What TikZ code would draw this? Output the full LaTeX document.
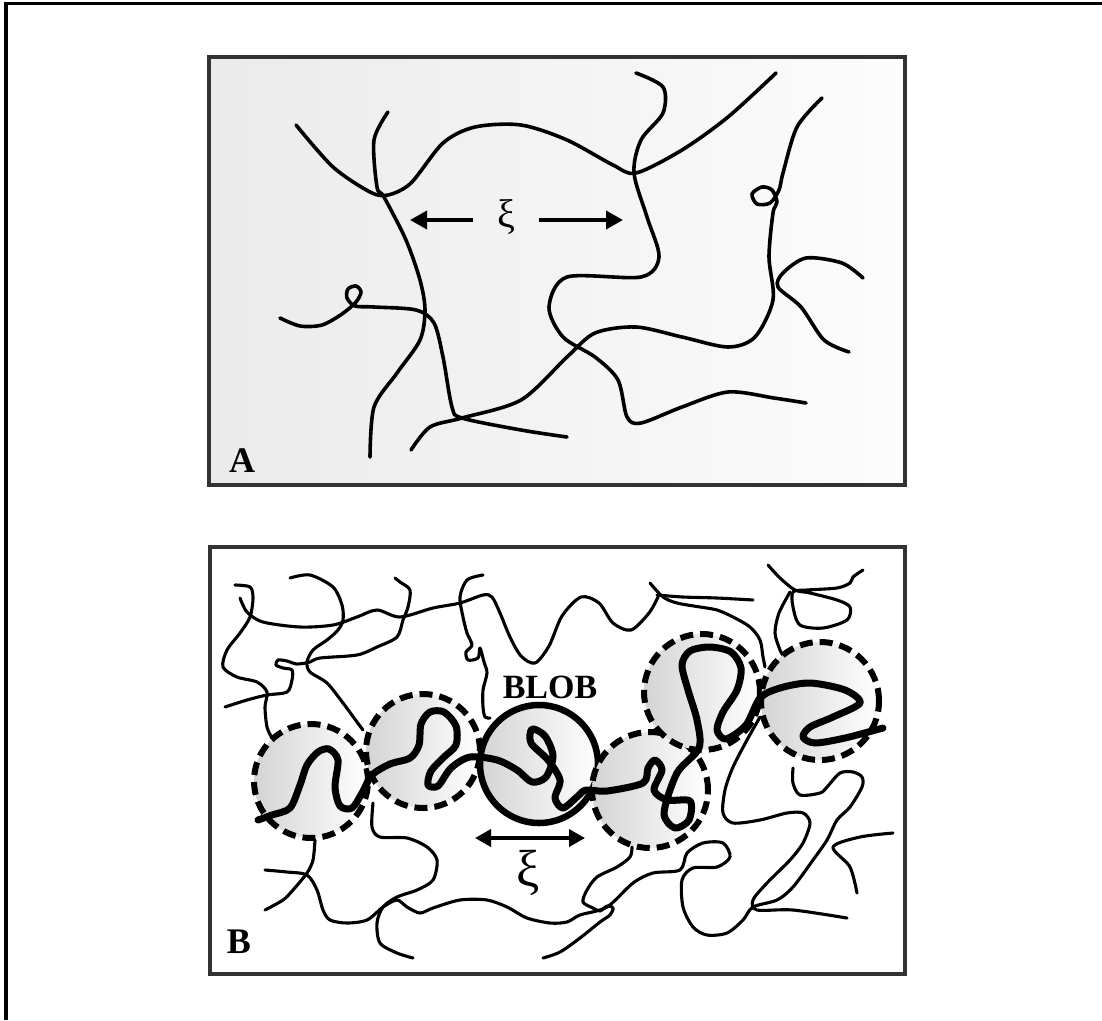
\documentclass[tikz,border=0pt]{standalone}
\usepackage{fontspec}
\setmainfont{Liberation Serif}
\usetikzlibrary{arrows.meta}
\begin{document}
\begin{tikzpicture}[x=1pt,y=-1pt,
  chain/.style={line width=3.6pt, line cap=round, line join=round},
  thinchain/.style={line width=3.1pt, line cap=round, line join=round},
  thickchain/.style={line width=7pt, line cap=round, line join=round},
  panel/.style={draw=black!80, line width=4pt},
  blob/.style={circle, minimum size=114pt, inner sep=0pt, left color=black!17, middle color=black!5, right color=white},
  dashring/.style={blob, draw=black, line width=6pt, dash pattern=on 13pt off 7pt},
  solidring/.style={blob, draw=black, line width=6.5pt},
  fatarrow/.style={line width=3.6pt, -{Triangle[length=17pt,width=18pt]}},
  fatboth/.style={line width=3.6pt, {Triangle[length=16pt,width=17pt]}-{Triangle[length=16pt,width=17pt]}},
  lab/.style={font=\fontsize{36}{36}\selectfont\bfseries, inner sep=0pt},
]
\useasboundingbox (0,0) rectangle (1102,1020);
% outer frame (left and top edges only)
\draw[line width=3.5pt] (6,1020) -- (6,3.5) -- (1102,3.5);

% ---------------- panel A: semi-dilute network ----------------
\node[panel, rectangle, minimum width=696pt, minimum height=428pt, inner sep=0pt,
      left color=black!8, right color=black!1, anchor=north west] (pA) at (207,55) {};

\draw[chain] plot[smooth] coordinates {(296,125) (333,167) (370,192) (388,195) (411,183) (443,143) (475,127) (521,125) (567,140) (613,165) (636,173) (682,150) (728,117) (776,73)};
\draw[chain] plot[smooth] coordinates {(388,112) (374,140) (377,187) (384,197) (406,240) (420,280) (425,310) (420,340) (397,373) (374,407) (370,457)};
\draw[chain] plot[smooth] coordinates {(280,318) (300,326) (322,325) (342,314) (356,302) (361,292) (356,286) (348,289) (347,298) (355,306) (374,307) (416,310) (434,323) (443,357) (452,407) (462,418) (521,430) (567,437)};
\draw[chain] plot[smooth] coordinates {(411,450) (430,427) (462,418) (521,400) (567,357) (595,333) (636,327) (682,337) (728,347) (755,337) (773,300) (769,257) (773,213) (777,202) (772,190) (762,187) (752,194) (757,204) (770,203) (779,190) (783,173) (797,127) (822,98)};
\draw[chain] plot[smooth] coordinates {(636,73) (663,87) (663,113) (641,140) (634,173) (647,217) (659,257) (641,277) (567,277) (549,307) (563,337) (595,357) (618,380) (627,417) (641,423) (682,407) (728,392) (774,398) (806,403)};
\draw[chain] plot[smooth] coordinates {(863,278) (842,263) (806,258) (783,273) (778,287) (801,307) (824,340) (849,352)};

\node[font=\fontsize{40}{40}\selectfont, inner sep=0pt] (xiA) at (506,217) {ξ};
\coordinate (xiAl) at (473,220);
\coordinate (xiAlt) at (410,220);
\coordinate (xiAr) at (539,220);
\coordinate (xiArt) at (623,220);
\draw[fatarrow] (xiAl) -- (xiAlt);
\draw[fatarrow] (xiAr) -- (xiArt);
\node[lab] (labA) at (242,461) {A};

% ---------------- panel B: blobs along a chain ----------------
\node[panel, rectangle, minimum width=695pt, minimum height=427pt, inner sep=0pt,
      fill=white, anchor=north west] (pB) at (208,545) {};

% blob interiors
\node[blob] (b1) at (311,781) {};
\node[blob] (b2) at (423,751) {};
\node[blob, minimum size=118pt] (b3) at (539,764) {};
\node[blob, minimum size=116pt] (b4) at (650,790) {};
\node[blob, minimum size=116pt] (b5) at (702,692) {};
\node[blob, minimum size=118pt] (b6) at (820,701) {};

% surrounding chains
\draw[thinchain] plot[smooth] coordinates {(235,585) (250,587) (253,598) (250,617) (240,633) (227,650) (223,667) (237,677) (257,682) (267,692) (265,707) (267,727) (272,738)};
\draw[thinchain] plot[smooth] coordinates {(240,598) (247,612) (263,622) (300,627) (333,625) (357,617) (377,610) (400,617) (433,608) (460,603) (483,595) (492,597) (500,613) (510,637) (521,656) (535,663) (549,646) (562,616) (581,597) (599,603) (613,623) (631,630) (649,613) (658,597)};
\draw[thinchain] plot[smooth] coordinates {(290,578) (310,575) (333,587) (342,605) (343,620) (338,630) (327,640) (313,650) (307,662) (310,672) (327,683) (343,703) (357,722) (363,730)};
\draw[thinchain] plot[smooth] coordinates {(225,707) (247,700) (267,695) (287,692) (292,680) (292,670) (283,668) (276,665) (278,660) (287,661) (297,664) (310,662) (320,658) (357,655) (377,647) (397,637) (403,620) (408,607) (410,590) (400,582) (395,578)};
\draw[thinchain] plot[smooth] coordinates {(483,575) (467,580) (460,597) (463,617) (467,633) (472,645) (466,652) (468,660) (478,658) (480,648) (484,662) (487,673) (483,690) (483,707) (485,717) (490,718)};
\draw[thinchain] plot[smooth] coordinates {(650,583) (663,597) (677,603) (700,607) (717,610) (733,617) (750,627) (760,640) (763,657) (765,667)};
\draw[thinchain] plot[smooth] coordinates {(657,595) (683,597) (717,598) (753,600)};
\draw[thinchain] plot[smooth] coordinates {(768,565) (780,578) (795,590) (810,593) (837,600) (850,607) (847,620) (823,628) (800,625) (793,607) (793,592) (807,590) (837,588) (850,583) (853,577) (863,570)};
\draw[thinchain] plot[smooth] coordinates {(790,592) (779,613) (775,633) (780,650) (783,655)};
\draw[thinchain] plot[smooth] coordinates {(315,840) (313,860) (307,873) (293,890) (283,900) (265,910)};
\draw[thinchain] plot[smooth] coordinates {(265,870) (287,872) (307,875) (317,890) (323,910) (330,920) (347,923) (367,920) (383,907) (397,900) (407,907) (420,913) (433,908) (460,900) (487,900) (507,907) (527,918) (550,923) (567,922) (580,915) (607,907) (633,883) (653,873) (680,870) (687,853) (703,843) (723,843) (730,857) (717,867) (693,868) (682,880) (683,907) (693,927) (707,935) (727,933) (743,920) (753,907) (777,900) (793,887) (813,860) (827,840) (837,820) (850,807) (862,787) (862,777) (853,772) (840,773) (827,787) (820,793) (800,795) (793,783) (793,768)};
\draw[thinchain] plot[smooth] coordinates {(373,803) (372,827) (380,837) (407,838) (427,847) (437,860) (433,880) (417,890) (397,897) (383,907) (377,923) (380,943) (397,953) (413,958)};
\draw[thinchain] plot[smooth] coordinates {(543,958) (560,952) (580,938) (600,922) (610,915) (613,908) (607,906) (600,911) (593,908) (583,902) (587,890) (597,877) (617,867) (630,857) (632,847)};
\draw[thinchain] plot[smooth] coordinates {(760,717) (747,740) (733,767) (725,790) (723,813) (733,823) (760,820) (787,813) (803,813) (810,823) (803,843) (790,860) (767,883) (753,900) (757,910) (793,910) (847,918)};
\draw[thinchain] plot[smooth] coordinates {(893,833) (860,837) (833,847) (850,867) (857,893)};

% blob outlines
\node[dashring] at (b1) {};
\node[dashring] at (b2) {};
\node[solidring, minimum size=118pt] at (b3) {};
\node[dashring, minimum size=116pt] at (b4) {};
\node[dashring, minimum size=116pt] at (b5) {};
\node[dashring, minimum size=118pt] at (b6) {};

% the chain threaded through the blobs
\draw[thickchain] plot[smooth] coordinates {(258,820) (272,815) (290,808) (300,785) (307,765) (318,752) (329,749) (338,760) (335,787) (340,806) (352,808) (362,793) (372,775) (390,764) (410,758) (419,745) (421,724) (430,712) (444,712) (456,726) (456,745) (444,757) (431,771) (428,785) (438,786) (451,768) (470,757) (497,760) (517,770) (532,782) (546,777) (553,756) (545,736) (532,729) (531,743) (548,760) (560,780) (555,798) (563,808) (578,796) (586,790) (607,791) (643,783) (648,768) (655,760) (662,770) (654,790) (667,800) (690,801) (689,820) (675,828) (664,813) (677,773) (699,748) (697,720) (688,690) (682,665) (690,651) (710,647) (731,652) (741,668) (737,690) (723,712) (717,730) (726,739) (746,725) (760,698) (780,688) (810,683) (845,690) (860,703) (833,717) (810,727) (803,737) (815,743) (845,738) (883,728)};

\node[lab, font=\fontsize{34}{34}\selectfont\bfseries] (blobl) at (550,687) {BLOB};
\coordinate (xiBl) at (475,838);
\coordinate (xiBr) at (585,838);
\draw[fatboth] (xiBl) -- (xiBr);
\node[font=\fontsize{52}{52}\selectfont, inner sep=0pt] (xiB) at (528,873) {ξ};
\node[lab] (labB) at (239,942) {B};
\end{tikzpicture}
\end{document}
